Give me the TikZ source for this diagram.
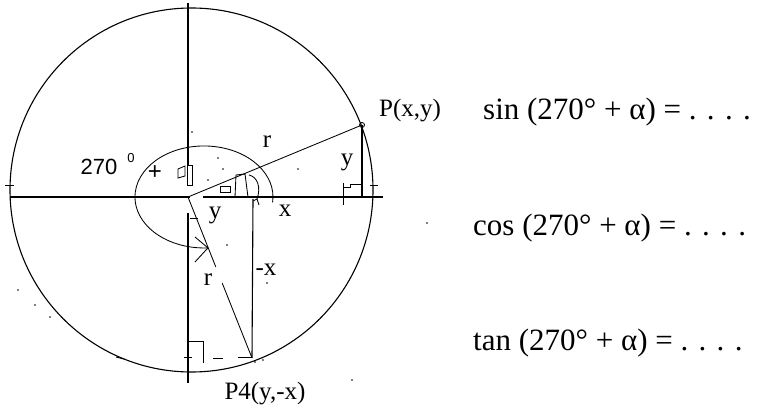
\documentclass[tikz,border=0pt]{standalone}
\usepackage{fontspec}
\setmainfont{Liberation Serif}
\newfontfamily\sansf{Liberation Sans}
\usetikzlibrary{calc}
\tikzset{
  ln/.style={line width=1.1pt},
  fine/.style={line width=0.85pt},
  lbl/.style={font=\fontsize{25}{25}\selectfont, inner sep=0pt},
  eqn/.style={font=\fontsize{31}{31}\selectfont, inner sep=0pt, anchor=base west},
  speck/.style={fill, circle, inner sep=0pt, minimum size=1.8pt}
}
\begin{document}
\begin{tikzpicture}[x=1pt,y=1pt]
\useasboundingbox (0,0) rectangle (757,-411);
% key points
\coordinate (O) at (188,-197);
\coordinate (P) at (362,-125);
\coordinate (P4) at (252,-358);
\coordinate (Px) at (362,-197);
\coordinate (P4x) at (253,-199);
\coordinate (C) at (191.5,-190);
% big circle
\draw[ln] (C) ellipse [x radius=181.5, y radius=182];
% axes
\draw[ln] (10,-197) -- (190,-197);
\draw[ln] (203,-197) -- (383,-197);
\draw[ln] (188,-3) -- (188,-165);
\draw[ln] (188,-213) -- (188,-383);
\draw[fine] (5,-185) -- (14,-185);
\draw[fine] (370,-185) -- (378,-185);
% angle arc 270+alpha
\draw[fine] (272.6,-202.3) arc[start angle=-6, end angle=273.3, x radius=69, y radius=51] coordinate (arcend);
\draw[fine] (195,-237) -- (arcend) -- (195,-262);
% ray to P and projection
\draw[fine] (O) -- (P);
\draw[fine] (P) circle (2.5);
\draw[ln] (P) -- (Px);
\draw[fine] (343,-183) -- (343,-205);
\draw[fine] (343,-187) -- (350,-187) -- (350,-184) -- (362,-184);
% ray to P4 and projections
\draw[fine] (O) -- ($(O)!0.435!(P4)$);
\draw[fine] ($(O)!0.534!(P4)$) -- (P4);
\draw[ln] (P4) -- (P4x);
\draw[fine] (188,-341) -- (203,-341) -- (203,-363);
\draw[fine] (184,-357) -- (192,-357);
\draw[fine] (213,-358) -- (223,-358);
\draw[fine] (238,-357) -- (252,-357);
\draw[fine] (190,-218) -- (198,-218);
% small marks near origin
\draw[fine] (187,-165) rectangle (192,-185);
\draw[fine] (178,-169) -- (185,-166) -- (185,-176) -- (178,-178) -- cycle;
\draw[fine] (220,-186) rectangle (230,-192);
\draw[fine] (235,-197) -- (236,-175) -- (245,-174) -- (248,-197);
\draw[fine] (249,-175) .. controls (258,-177) and (261,-188) .. (257,-199);
\draw[fine] (253,-201) -- (257,-199) -- (259,-205);
% specks
\foreach \p in {(192,-132),(218,-158),(223,-169),(208,-180),(298,-169),(227,-245),(267,-283),(18,-290),(35,-305),(50,-317),(352,-380),(427,-223),(255,-362),(263,-360)}
  \node[speck] at \p {};
\draw[fine] (116,-357) -- (124,-359);
% labels
\node[lbl] (lr1) at (267,-142) {r};
\node[lbl] (ly1) at (347,-162) {y};
\node[lbl] (lx1) at (285,-211) {x};
\node[lbl] (ly2) at (215,-215) {y};
\node[lbl] (lmx) at (266,-270) {-x};
\node[lbl] (lr2) at (208,-280) {r};
\node[lbl] (lP4) at (265,-394) {P4(y,-x)};
\node[lbl] (lP) at (410,-111) {P(x,y)};
\node[inner sep=0pt, font=\sansf\fontsize{22}{22}\selectfont] (l270) at (99,-167) {270};
\node[inner sep=0pt, font=\sansf\fontsize{13}{13}\selectfont] (ldeg) at (131,-158) {0};
\node[inner sep=0pt, font=\sansf\fontsize{24}{24}\selectfont] (lplus) at (155,-173) {+};
% equations
\node[eqn] (sin) at (483,-120) {sin (270° + α) = . . . .};
\node[eqn] (cos) at (473,-236) {cos (270° + α) = . . . .};
\node[eqn] (tan) at (473,-350) {tan (270° + α) = . . . .};
\end{tikzpicture}
\end{document}
